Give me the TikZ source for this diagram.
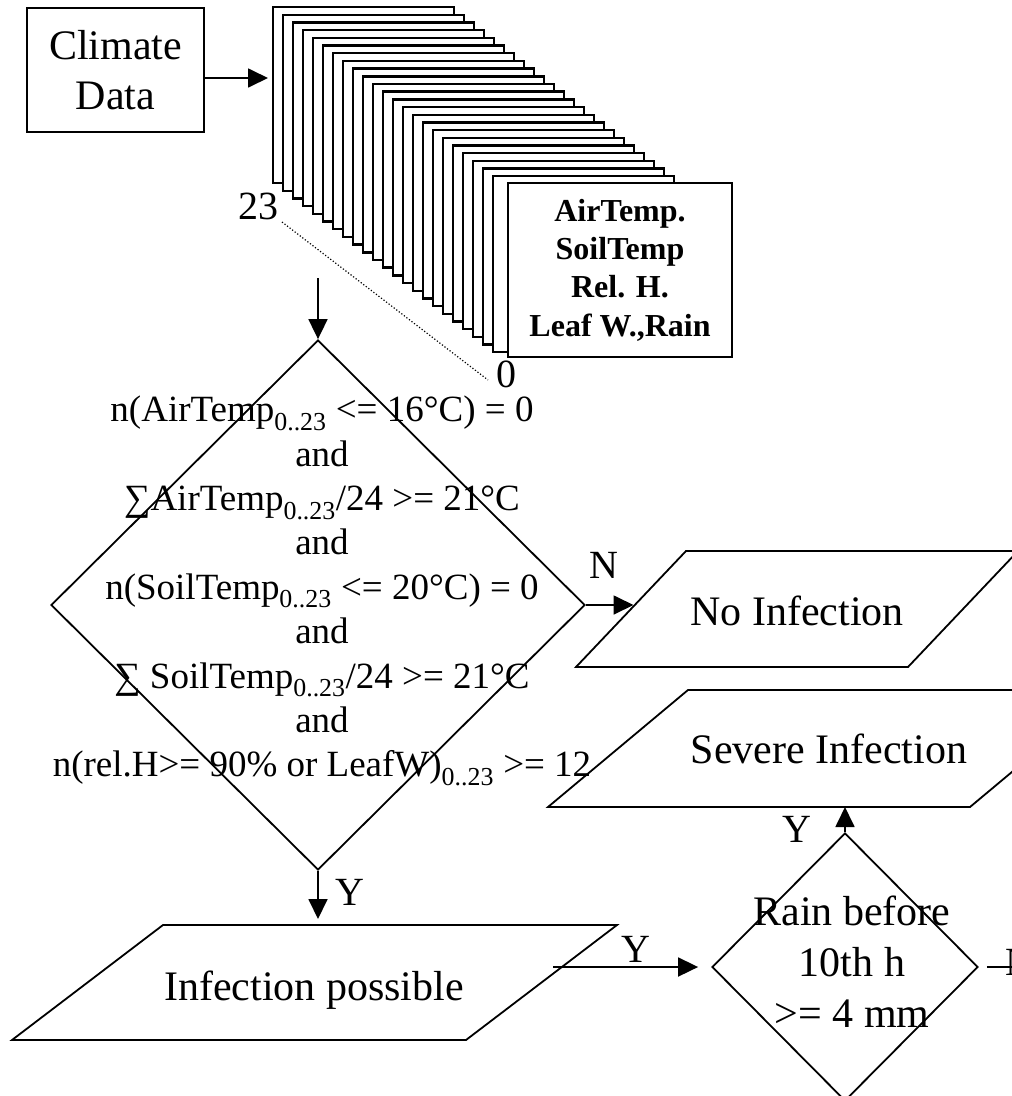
\documentclass[tikz,border=0pt]{standalone}
\usepackage{fontspec}
\setmainfont{Liberation Serif}
\usetikzlibrary{arrows.meta,shapes.geometric,calc}
\begin{document}
\begin{tikzpicture}[x=1pt,y=-1pt,
  every node/.style={inner sep=0pt},
  lw/.style={line width=1.8pt},
  arr/.style={line width=1.8pt,-{Triangle[length=20pt,width=19pt]}},
  big/.style={font=\fontsize{42}{50}\selectfont},
  cond/.style={font=\fontsize{37}{44.4}\selectfont, align=center},
  lbl/.style={font=\fontsize{40}{48}\selectfont},
  pagebox/.style={draw, fill=white, line width=2.4pt, anchor=north west, minimum width=181pt, minimum height=176pt},
  dotline/.style={line width=1.2pt, dash pattern=on 1.2pt off 2pt}]
\useasboundingbox (0,0) rectangle (1012,1096);
\clip (0,0) rectangle (1012,1096);

% climate data box
\node[draw, lw, minimum width=177pt, minimum height=124pt, big, align=center] (clim) at (115.5,70) {Climate\\Data};

% stack of hourly pages
\foreach \i in {0,...,22} {
  \node[pagebox] (p\i) at ({272+10*\i},{6+7.68*\i}) {};
}
\node[pagebox, anchor=center, minimum width=224pt, minimum height=174pt,
  font=\fontsize{32}{38.3}\selectfont\bfseries, align=center] (front) at (620,270)
  {AirTemp.\\SoilTemp\\Rel. H.\\Leaf W.,Rain};
\draw[arr] ([yshift=-8pt]clim.east) -- ([yshift=-8pt,xshift=-4pt]clim.east -| p0.west);

\node[lbl, anchor=base] (l23) at (258,219) {23};
\node[lbl, anchor=base] (l0) at (506,387) {0};
\coordinate (dotA) at (282,222);
\coordinate (dotB) at (488,380);
\draw[dotline] (dotA) -- (dotB);

% big decision diamond
\node[draw, lw, diamond, minimum width=534pt, minimum height=530pt] (d1) at (318,605) {};
\node[cond] (c1) at (322,591) {n(AirTemp\textsubscript{0..23} <= 16°C) = 0\\and\\∑AirTemp\textsubscript{0..23}/24 >= 21°C\\and\\n(SoilTemp\textsubscript{0..23} <= 20°C) = 0\\and\\∑ SoilTemp\textsubscript{0..23}/24 >= 21°C\\and\\n(rel.H>= 90\% or LeafW)\textsubscript{0..23} >= 12};
\coordinate (s1) at (318,278);
\draw[arr] (s1) -- (d1.north);

% No Infection
\coordinate (niTL) at (686,551);
\coordinate (niTR) at (1018,551);
\coordinate (niBR) at (908,667);
\coordinate (niBL) at (576,667);
\draw[lw] (niTL) -- (niTR) -- (niBR) -- (niBL) -- cycle;
\node[big, anchor=base] (ni) at (797,625) {No Infection};
\coordinate (niIn) at ($(niBL)!0.55!(niTL)$);
\draw[arr] (d1.east) -- ([xshift=-3pt]d1.east -| niIn);
\node[lbl, anchor=base] (nN) at (604,578) {N};

% Severe Infection
\coordinate (siTL) at (688,690);
\coordinate (siTR) at (1110,690);
\coordinate (siBR) at (970,807);
\coordinate (siBL) at (548,807);
\draw[lw] (siTL) -- (siTR) -- (siBR) -- (siBL) -- cycle;
\node[big, anchor=base] (si) at (829,763) {Severe Infection};

% Infection possible
\coordinate (ipTL) at (163,925);
\coordinate (ipTR) at (617,925);
\coordinate (ipBR) at (466,1040);
\coordinate (ipBL) at (12,1040);
\draw[lw] (ipTL) -- (ipTR) -- (ipBR) -- (ipBL) -- cycle;
\node[big, anchor=base] (ip) at (314,1000) {Infection possible};
\draw[arr] (d1.south) -- ([yshift=6pt]d1.south |- ipTL);
\node[lbl, anchor=base] (y1) at (350,905) {Y};

% Rain decision
\node[draw, lw, diamond, minimum width=266pt, minimum height=268pt] (d2) at (845,967) {};
\node[align=center, font=\fontsize{42}{51}\selectfont] (rt) at (852,962) {Rain before\\10th h\\>= 4 mm};
\coordinate (ipOut) at (553,967);
\draw[arr] (ipOut) -- ([xshift=-13pt]d2.west);
\node[lbl, anchor=base] (y2) at (636,962) {Y};
\draw[arr] (d2.north) -- (d2.north |- siBL);
\node[lbl, anchor=base] (y3) at (797,842) {Y};
\draw[arr] ([xshift=8pt]d2.east) -- ++(90,0);
\node[lbl, anchor=base west] (n2) at (1005,975) {N};
\end{tikzpicture}
\end{document}
